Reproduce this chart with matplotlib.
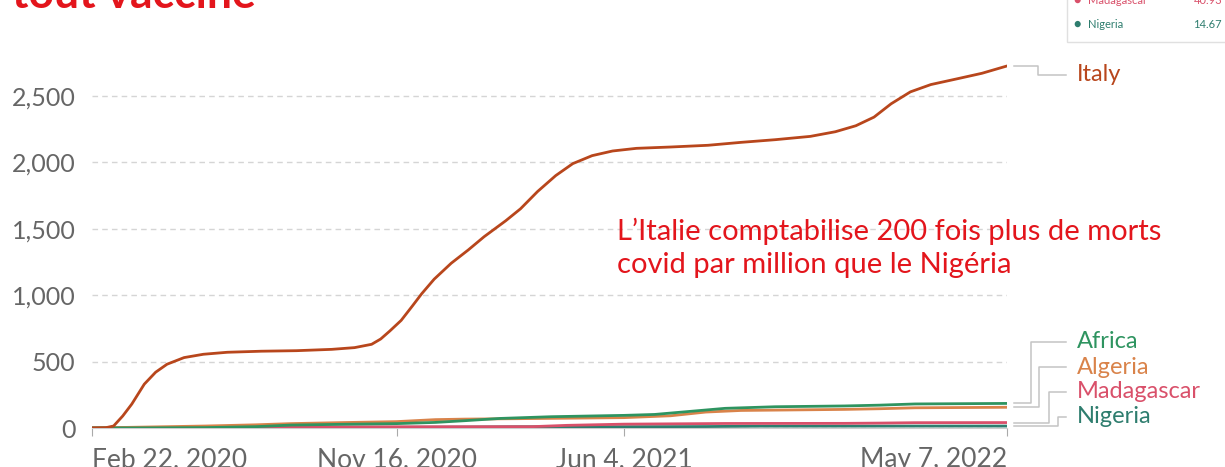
import matplotlib
matplotlib.use("Agg")
import matplotlib.pyplot as plt
from matplotlib.patches import Rectangle
import pandas as pd

plt.rcParams["font.family"] = ["Lato", "DejaVu Sans"]

# --- données (morts covid cumulées par million) ---
italy_dates = ["2020-02-22", "2020-03-05", "2020-03-12", "2020-03-20", "2020-03-28", "2020-04-08",
               "2020-04-18", "2020-04-28", "2020-05-13", "2020-05-30", "2020-06-20", "2020-07-20",
               "2020-08-20", "2020-09-20", "2020-10-10", "2020-10-25", "2020-11-02", "2020-11-10",
               "2020-11-20", "2020-11-30", "2020-12-08", "2020-12-19", "2021-01-03", "2021-01-18",
               "2021-02-01", "2021-02-20", "2021-03-05", "2021-03-20", "2021-04-05", "2021-04-20",
               "2021-05-07", "2021-05-25", "2021-06-15", "2021-07-15", "2021-08-17", "2021-09-15",
               "2021-10-15", "2021-11-15", "2021-12-07", "2021-12-25", "2022-01-10", "2022-01-25",
               "2022-02-11", "2022-03-01", "2022-03-25", "2022-04-15", "2022-05-07"]
italy_vals = [0, 2, 15, 90, 180, 330, 420, 480, 530, 555, 570, 578, 582, 592, 605, 630, 670, 730,
              810, 920, 1010, 1120, 1240, 1340, 1440, 1560, 1650, 1780, 1900, 1990, 2050, 2085,
              2105, 2115, 2128, 2150, 2170, 2195, 2230, 2275, 2340, 2440, 2530, 2585, 2630, 2670, 2725]

africa_dates = ["2020-02-22", "2020-04-15", "2020-06-01", "2020-07-15", "2020-08-15", "2020-10-01",
                "2020-11-16", "2020-12-20", "2021-01-15", "2021-02-15", "2021-04-01", "2021-06-04",
                "2021-07-01", "2021-08-01", "2021-09-01", "2021-10-15", "2021-12-15", "2022-01-15",
                "2022-02-15", "2022-05-07"]
africa_vals = [0, 1, 3, 10, 22, 28, 33, 42, 55, 72, 85, 95, 102, 125, 148, 160, 166, 172, 181, 185]

algeria_dates = ["2020-02-22", "2020-04-15", "2020-06-01", "2020-07-15", "2020-08-15", "2020-10-01",
                 "2020-11-16", "2020-12-20", "2021-01-15", "2021-03-01", "2021-06-04", "2021-07-15",
                 "2021-08-15", "2021-09-15", "2021-12-15", "2022-01-15", "2022-02-15", "2022-05-07"]
algeria_vals = [0, 8, 15, 24, 33, 41, 48, 63, 67, 70, 78, 92, 120, 132, 140, 145, 152, 156]

madagascar_dates = ["2020-02-22", "2020-05-01", "2020-07-15", "2020-09-01", "2020-11-16", "2021-03-15",
                    "2021-04-15", "2021-06-04", "2021-09-01", "2021-12-15", "2022-01-15", "2022-02-15",
                    "2022-05-07"]
madagascar_vals = [0, 0, 4, 8, 9, 10, 20, 29, 34, 35, 37, 40, 40.93]

nigeria_dates = ["2020-02-22", "2020-04-15", "2020-07-01", "2020-09-01", "2020-11-16", "2021-01-15",
                 "2021-03-01", "2021-06-04", "2021-08-15", "2021-10-01", "2021-12-15", "2022-02-15",
                 "2022-05-07"]
nigeria_vals = [0, 0.1, 1.2, 5, 5.5, 7, 9.3, 9.9, 11, 14, 14.3, 14.6, 14.67]

xtick_dates = ["2020-02-22", "2020-11-16", "2021-06-04", "2022-05-07"]
xtick_labels = ["Feb 22, 2020", "Nov 16, 2020", "Jun 4, 2021", "May 7, 2022"]
yticks = [0, 500, 1000, 1500, 2000, 2500]

C_ITALY = "#B8461C"
C_AFRICA = "#2E9460"
C_ALGERIA = "#D9834A"
C_MADA = "#D9506A"
C_NIGERIA = "#2E7D6E"
RED = "#E3151C"
GREY = "#666666"

fig = plt.figure(figsize=(12.25, 4.67), dpi=100)
fig.patch.set_facecolor("white")
ax = fig.add_axes([92 / 1225, 1 - 428 / 467, 915 / 1225, 372 / 467])

series = [
    (nigeria_dates, nigeria_vals, C_NIGERIA),
    (madagascar_dates, madagascar_vals, C_MADA),
    (algeria_dates, algeria_vals, C_ALGERIA),
    (africa_dates, africa_vals, C_AFRICA),
    (italy_dates, italy_vals, C_ITALY),
]
for d, v, c in series:
    ax.plot(pd.to_datetime(d), v, color=c, linewidth=2.0, solid_capstyle="round", zorder=3)

ax.set_xlim(pd.Timestamp("2020-02-22"), pd.Timestamp("2022-05-07"))
ax.set_ylim(0, 2800)
ax.set_yticks(yticks)
ax.set_yticklabels([f"{t:,}" for t in yticks])
ax.set_xticks(pd.to_datetime(xtick_dates))
ax.set_xticklabels(xtick_labels)
xl = ax.get_xticklabels()
xl[0].set_horizontalalignment("left")
xl[-1].set_horizontalalignment("right")

for s in ["top", "right", "left"]:
    ax.spines[s].set_visible(False)
ax.spines["bottom"].set_color("#cccccc")
ax.tick_params(axis="y", length=0, pad=12, labelsize=18, labelcolor=GREY)
ax.tick_params(axis="x", length=6, color="#aaaaaa", pad=8, labelsize=19, labelcolor=GREY)
ax.grid(True, axis="y", color="#d5d5d5", linestyle=(0, (4, 3)), linewidth=1)
ax.grid(False, axis="x")
ax.set_axisbelow(True)

# étiquettes à droite avec connecteurs
yt = ax.get_yaxis_transform()
labels = [
    ("Italy", italy_vals[-1], 2658, 1.034, C_ITALY),
    ("Africa", africa_vals[-1], 648, 1.026, C_AFRICA),
    ("Algeria", algeria_vals[-1], 459, 1.035, C_ALGERIA),
    ("Madagascar", madagascar_vals[-1], 271, 1.046, C_MADA),
    ("Nigeria", nigeria_vals[-1], 83, 1.056, C_NIGERIA),
]
for name, yend, ylab, xv, col in labels:
    ax.plot([1.008, xv, xv, 1.064], [yend, yend, ylab, ylab], transform=yt,
            color="#c4c4c4", linewidth=1.1, clip_on=False)
    ax.text(1.076, ylab, name, transform=yt, color=col, fontsize=17, va="center", ha="left")

# texte d'annotation
fig.text(617 / 1225, 1 - 240 / 467, "L’Italie comptabilise 200 fois plus de morts",
         color=RED, fontsize=21, va="baseline", ha="left")
fig.text(617 / 1225, 1 - 273 / 467, "covid par million que le Nigéria",
         color=RED, fontsize=21, va="baseline", ha="left")

# titre coupé en haut
fig.text(12 / 1225, 1 - 8 / 467, "tout vacciné", color=RED, fontsize=32, fontweight="bold",
         va="baseline", ha="left")

# légende coupée en haut à droite
box = Rectangle((1067 / 1225, 1 - 42 / 467), 0.2, 0.15, transform=fig.transFigure,
                facecolor="white", edgecolor="#e0e0e0", linewidth=1, zorder=5)
fig.add_artist(box)
for yy, name, val, col in [(0, "Madagascar", "40.93", C_MADA), (24, "Nigeria", "14.67", C_NIGERIA)]:
    fig.text(1073 / 1225, 1 - yy / 467, "●", color=col, fontsize=9, va="center", zorder=6)
    fig.text(1088 / 1225, 1 - yy / 467, name, color=col, fontsize=8, va="center", zorder=6)
    fig.text(1222 / 1225, 1 - yy / 467, val, color=col, fontsize=8, va="center", ha="right", zorder=6)

fig.savefig("out.png", dpi=100)
